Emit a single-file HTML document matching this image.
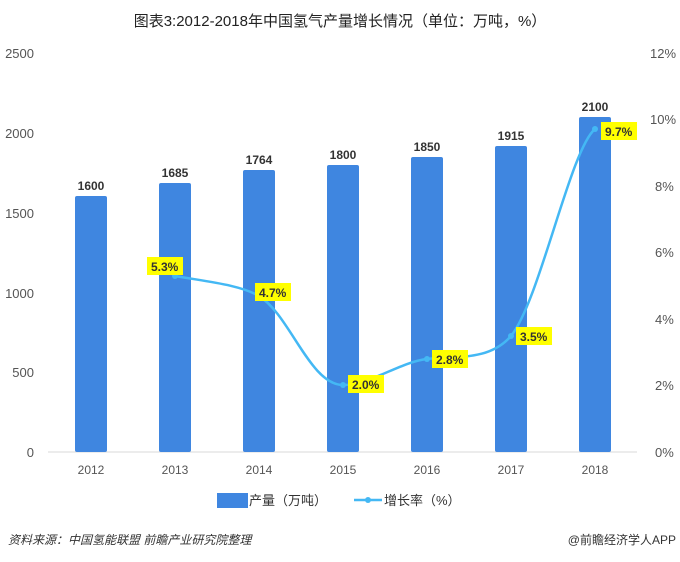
<!DOCTYPE html>
<html><head><meta charset="utf-8"><style>
body{margin:0;background:#fff;font-family:"Liberation Sans","Noto Sans CJK SC",sans-serif}
svg text{font-family:"Liberation Sans","Noto Sans CJK SC",sans-serif}
</style></head><body>
<svg width="680" height="557" xmlns="http://www.w3.org/2000/svg">
<text x="340" y="26" text-anchor="middle" font-size="15" fill="#222">图表3:2012-2018年中国氢气产量增长情况（单位：万吨，%）</text>
<g font-size="13" fill="#555">
<text x="34" y="58" text-anchor="end">2500</text>
<text x="34" y="138" text-anchor="end">2000</text>
<text x="34" y="218" text-anchor="end">1500</text>
<text x="34" y="298" text-anchor="end">1000</text>
<text x="34" y="377" text-anchor="end">500</text>
<text x="34" y="457" text-anchor="end">0</text>
<text x="650" y="58">12%</text>
<text x="650" y="124">10%</text>
<text x="655" y="191">8%</text>
<text x="655" y="257">6%</text>
<text x="655" y="324">4%</text>
<text x="655" y="390">2%</text>
<text x="655" y="457">0%</text>
</g>
<line x1="48" y1="452" x2="637" y2="452" stroke="#d9d9d9" stroke-width="1"/>
<g fill="#3f86e0">
<rect x="75" y="196" width="32" height="256" rx="2"/>
<rect x="159" y="183" width="32" height="269" rx="2"/>
<rect x="243" y="170" width="32" height="282" rx="2"/>
<rect x="327" y="165" width="32" height="287" rx="2"/>
<rect x="411" y="157" width="32" height="295" rx="2"/>
<rect x="495" y="146" width="32" height="306" rx="2"/>
<rect x="579" y="117" width="32" height="335" rx="2"/>
</g>
<g font-size="12" font-weight="bold" fill="#333" text-anchor="middle">
<text x="91" y="190">1600</text><text x="175" y="177">1685</text><text x="259" y="164">1764</text>
<text x="343" y="159">1800</text><text x="427" y="151">1850</text><text x="511" y="140">1915</text><text x="595" y="111">2100</text>
</g>
<g font-size="12" fill="#555" text-anchor="middle">
<text x="91" y="474">2012</text><text x="175" y="474">2013</text><text x="259" y="474">2014</text><text x="343" y="474">2015</text><text x="427" y="474">2016</text><text x="511" y="474">2017</text><text x="595" y="474">2018</text>
</g>
<path d="M175,276 C210,282 240,285 259,296 C290,315 310,385 343,385 C370,385 400,362 427,359 C460,356 490,360 511,336 C540,300 570,150 595,129" fill="none" stroke="#44b8f4" stroke-width="2.5"/>
<g fill="#44b8f4"><circle cx="175" cy="276" r="3"/><circle cx="259" cy="296" r="3"/><circle cx="343" cy="385" r="3"/><circle cx="427" cy="359" r="3"/><circle cx="511" cy="336" r="3"/><circle cx="595" cy="129" r="3"/></g>
<g font-size="12" font-weight="bold" fill="#333">
<rect x="147" y="257" width="36" height="18" fill="#ffff00"/><text x="151" y="271">5.3%</text>
<rect x="255" y="283" width="36" height="18" fill="#ffff00"/><text x="259" y="297">4.7%</text>
<rect x="348" y="375" width="36" height="18" fill="#ffff00"/><text x="352" y="389">2.0%</text>
<rect x="432" y="350" width="36" height="18" fill="#ffff00"/><text x="436" y="364">2.8%</text>
<rect x="516" y="327" width="36" height="18" fill="#ffff00"/><text x="520" y="341">3.5%</text>
<rect x="601" y="122" width="36" height="18" fill="#ffff00"/><text x="605" y="136">9.7%</text>
</g>
<rect x="217" y="493" width="31" height="15" fill="#3f86e0"/>
<text x="249" y="505" font-size="13" fill="#333">产量（万吨）</text>
<line x1="354" y1="500" x2="382" y2="500" stroke="#44b8f4" stroke-width="2.5"/>
<circle cx="368" cy="500" r="3" fill="#44b8f4"/>
<text x="384" y="505" font-size="13" fill="#333">增长率（%）</text>
<text x="8" y="544" font-size="12" font-style="italic" fill="#333">资料来源：中国氢能联盟 前瞻产业研究院整理</text>
<text x="676" y="544" font-size="12" fill="#333" text-anchor="end">@前瞻经济学人APP</text>
</svg>
</body></html>
